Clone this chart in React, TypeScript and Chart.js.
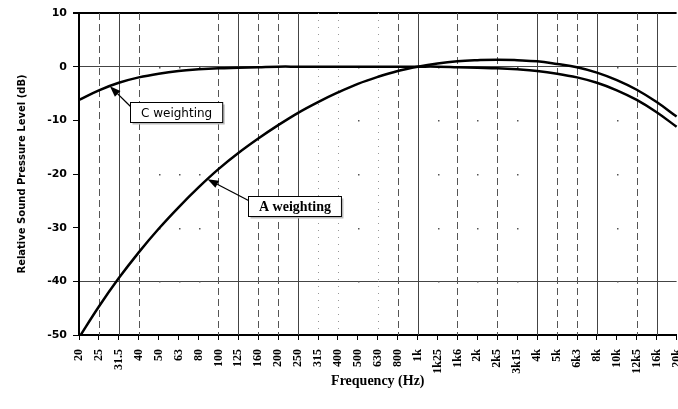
import React, { useEffect, useRef } from "react";
import { Chart, registerables } from "chart.js";

Chart.register(...registerables);

const frequencies = [
  "20", "25", "31.5", "40", "50", "63", "80", "100", "125", "160", "200", "250",
  "315", "400", "500", "630", "800", "1k", "1k25", "1k6", "2k", "2k5", "3k15",
  "4k", "5k", "6k3", "8k", "10k", "12k5", "16k", "20k",
];

const aWeighting = [
  -50.5, -44.7, -39.4, -34.6, -30.2, -26.2, -22.5, -19.1, -16.1, -13.4, -10.9, -8.6,
  -6.6, -4.8, -3.2, -1.9, -0.8, 0, 0.6, 1.0, 1.2, 1.3, 1.2,
  1.0, 0.5, -0.1, -1.1, -2.5, -4.3, -6.6, -9.3,
];

const cWeighting = [
  -6.2, -4.4, -3.0, -2.0, -1.3, -0.8, -0.5, -0.3, -0.2, -0.1, 0, 0,
  0, 0, 0, 0, 0, 0, 0, -0.1, -0.2, -0.3, -0.5,
  -0.8, -1.3, -2.0, -3.0, -4.4, -6.2, -8.5, -11.2,
];

const yMin = -50;
const yMax = 10;
const yStep = 10;
const solidYLines = [0, -40];

// vertical grid line style per frequency
const gridStyles = [
  "none", "dashed", "solid", "dashed", "sparse", "sparse", "sparse", "dashed", "solid", "dashed", "dashed", "solid",
  "dotted", "dotted", "sparse", "dotted", "dashed", "solid", "sparse", "dashed", "sparse", "dashed", "sparse",
  "solid", "dashed", "dashed", "solid", "sparse", "dashed", "solid", "none",
];

const annotations = [
  { label: "C weighting", series: "C", tipAt: 1.55, boxAt: 4.85, boxValue: -8.4, font: "12px 'DejaVu Sans'" },
  { label: "A weighting", series: "A", tipAt: 6.45, boxAt: 10.8, boxValue: -25.9, font: "bold 14px 'Liberation Serif'" },
];

function interp(arr: number[], at: number) {
  const i = Math.floor(at);
  const f = at - i;
  const a = arr[i];
  const b = arr[Math.min(i + 1, arr.length - 1)];
  return a + (b - a) * f;
}

const customPlugin = {
  id: "custom",
  beforeDatasetsDraw(chart: any) {
    const { ctx, chartArea, scales } = chart;
    const xs = scales.x;
    const ys = scales.y;
    ctx.save();
    gridStyles.forEach((st, i) => {
      const x = Math.round(xs.getPixelForValue(i)) + 0.5;
      if (st === "none") return;
      ctx.beginPath();
      if (st === "solid") {
        ctx.strokeStyle = "#444";
        ctx.setLineDash([]);
      } else if (st === "dashed") {
        ctx.strokeStyle = "#555";
        ctx.setLineDash([7, 4]);
      } else if (st === "dotted") {
        ctx.strokeStyle = "#999";
        ctx.setLineDash([1, 6]);
      } else {
        // sparse: dots at value levels
        ctx.fillStyle = "#555";
        for (let v = yMin + yStep; v < yMax; v += yStep) {
          const y = Math.round(ys.getPixelForValue(v));
          ctx.fillRect(x - 0.5, y, 1.5, 1.5);
        }
        return;
      }
      ctx.lineWidth = 1;
      ctx.moveTo(x, chartArea.top);
      ctx.lineTo(x, chartArea.bottom);
      ctx.stroke();
    });
    ctx.setLineDash([]);
    ctx.restore();
  },
  afterDatasetsDraw(chart: any) {
    const { ctx, scales } = chart;
    const xs = scales.x;
    const ys = scales.y;
    ctx.save();
    annotations.forEach((a) => {
      const arr = a.series === "A" ? aWeighting : cWeighting;
      const tipX = xs.getPixelForValue(a.tipAt);
      const tipY = ys.getPixelForValue(interp(arr, a.tipAt));
      const cx = xs.getPixelForValue(a.boxAt);
      const cy = ys.getPixelForValue(a.boxValue);
      ctx.font = a.font;
      const w = ctx.measureText(a.label).width + 21;
      const h = 20;
      const left = Math.round(cx - w / 2) + 0.5;
      const top = Math.round(cy - h / 2) + 0.5;
      // shadow
      ctx.fillStyle = "#bbb";
      ctx.fillRect(left + 2, top + 2, w, h);
      ctx.fillStyle = "#fff";
      ctx.fillRect(left, top, w, h);
      ctx.strokeStyle = "#000";
      ctx.lineWidth = 1;
      ctx.strokeRect(left, top, w, h);
      ctx.fillStyle = "#000";
      ctx.textAlign = "center";
      ctx.textBaseline = "middle";
      ctx.fillText(a.label, left + w / 2, top + h / 2 + 1);
      // arrow
      const sx = left;
      const sy = top + 4;
      const ang = Math.atan2(tipY - sy, tipX - sx);
      const len = 11;
      const hw = 4;
      const bx = tipX - len * Math.cos(ang);
      const by = tipY - len * Math.sin(ang);
      ctx.beginPath();
      ctx.lineWidth = 1.3;
      ctx.moveTo(sx, sy);
      ctx.lineTo(bx, by);
      ctx.stroke();
      ctx.beginPath();
      ctx.moveTo(tipX, tipY);
      ctx.lineTo(bx + hw * Math.sin(ang), by - hw * Math.cos(ang));
      ctx.lineTo(bx - hw * Math.sin(ang), by + hw * Math.cos(ang));
      ctx.closePath();
      ctx.fill();
    });
    ctx.restore();
  },
};

export default function App() {
  const ref = useRef<HTMLCanvasElement | null>(null);
  useEffect(() => {
    if (!ref.current) return;
    const chart = new Chart(ref.current, {
      type: "line",
      data: {
        labels: frequencies,
        datasets: [
          { label: "A weighting", data: aWeighting, borderColor: "#000", borderWidth: 2.5, pointRadius: 0, tension: 0.4, fill: false },
          { label: "C weighting", data: cWeighting, borderColor: "#000", borderWidth: 2.5, pointRadius: 0, tension: 0.4, fill: false },
        ],
      },
      options: {
        animation: false,
        responsive: false,
        devicePixelRatio: 1,
        layout: { padding: { top: 13, right: 21, bottom: 0, left: 0 } },
        plugins: { legend: { display: false }, tooltip: { enabled: false } },
        scales: {
          x: {
            type: "category",
            offset: false,
            afterFit: (s: any) => { s.height = 74; },
            grid: { drawOnChartArea: false, drawTicks: true, tickColor: "#000", tickLength: 5, tickWidth: 1 },
            border: { color: "#000", width: 2 },
            ticks: {
              autoSkip: false,
              maxRotation: 90,
              minRotation: 90,
              padding: 9,
              color: "#000",
              font: { family: "'Liberation Serif'", size: 12, weight: "bold" },
            },
            title: {
              display: true,
              text: "Frequency (Hz)",
              color: "#000",
              font: { family: "'Liberation Serif'", size: 14, weight: "bold" },
              padding: { top: 0, bottom: 19 },
            },
          },
          y: {
            min: yMin,
            max: yMax,
            afterFit: (s: any) => { s.width = 79; },
            ticks: {
              stepSize: yStep,
              padding: 6,
              color: "#000",
              font: { family: "'DejaVu Sans'", size: 11, weight: "bold" },
            },
            grid: {
              color: (c: any) => {
                const v = c.tick ? c.tick.value : null;
                if (v === yMax) return "#000";
                if (solidYLines.includes(v)) return "#444";
                return "rgba(0,0,0,0)";
              },
              lineWidth: (c: any) => (c.tick && c.tick.value === yMax ? 2 : 1),
              tickColor: "#000",
              tickLength: 6,
            },
            border: { color: "#000", width: 2 },
            title: {
              display: true,
              text: "Relative Sound Pressure Level (dB)",
              color: "#000",
              font: { family: "'DejaVu Sans'", size: 10, weight: "bold" },
              padding: { top: 16, bottom: 0 },
            },
          },
        },
      },
      plugins: [customPlugin],
    });
    return () => chart.destroy();
  }, []);
  return (
    <div style={{ position: "fixed", left: 0, top: 0, width: 678, height: 409, overflow: "hidden", background: "#fff" }}>
      <canvas ref={ref} width={700} height={409} style={{ width: 700, height: 409, display: "block" }} />
    </div>
  );
}
